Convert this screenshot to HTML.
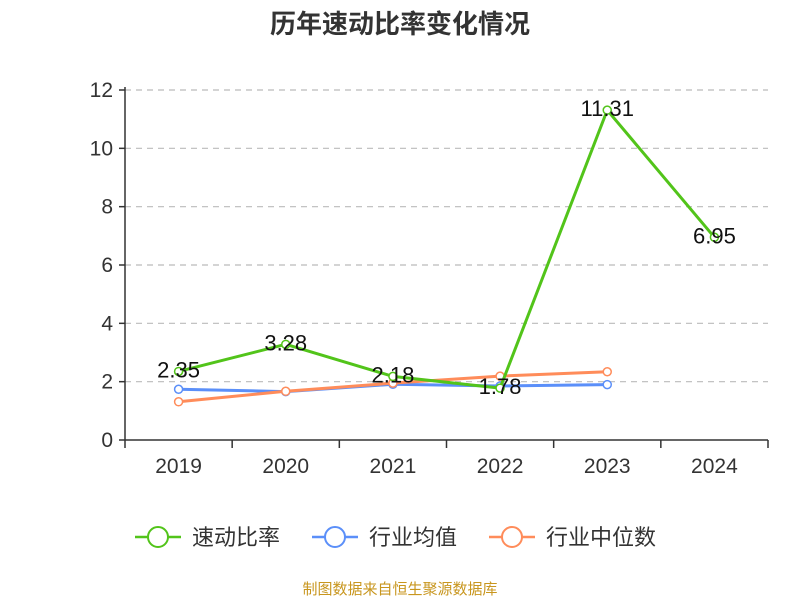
<!DOCTYPE html>
<html><head><meta charset="utf-8"><style>
body{margin:0;background:#fff;font-family:"Liberation Sans","Noto Sans CJK SC",sans-serif}
</style></head><body>
<svg width="800" height="600" xmlns="http://www.w3.org/2000/svg" id="c" font-family="Liberation Sans, Noto Sans CJK SC, sans-serif">
<text x="400" y="33" text-anchor="middle" font-size="26" font-weight="bold" fill="#333">历年速动比率变化情况</text>
<g id="grid"></g><g id="axes"></g><g id="series"></g>
<g>
<g><line x1="135" y1="537" x2="181" y2="537" stroke="#52c41a" stroke-width="2.5"/><circle cx="158" cy="537" r="10" fill="#fff" stroke="#52c41a" stroke-width="2"/><text x="192" y="545" font-size="22" fill="#333">速动比率</text></g>
<g><line x1="312" y1="537" x2="358" y2="537" stroke="#5b8ff9" stroke-width="2.5"/><circle cx="335" cy="537" r="10" fill="#fff" stroke="#5b8ff9" stroke-width="2"/><text x="369" y="545" font-size="22" fill="#333">行业均值</text></g>
<g><line x1="489" y1="537" x2="535" y2="537" stroke="#ff8c5a" stroke-width="2.5"/><circle cx="512" cy="537" r="10" fill="#fff" stroke="#ff8c5a" stroke-width="2"/><text x="546" y="545" font-size="22" fill="#333">行业中位数</text></g>
</g>
<text x="400" y="594" text-anchor="middle" font-size="15" fill="#c8961e">制图数据来自恒生聚源数据库</text>
</svg>
<script>
const categories=["2019","2020","2021","2022","2023","2024"];
const quickRatio=[2.35,3.28,2.18,1.78,11.31,6.95];
const industryAvg=[1.74,1.66,1.91,1.85,1.9];
const industryMedian=[1.31,1.67,1.95,2.19,2.34];
const yTicks=[0,2,4,6,8,10,12];
const NS="http://www.w3.org/2000/svg";
const x0=125,x1=768,y0=440,y1=90,yMax=12;
const band=(x1-x0)/categories.length;
const X=i=>x0+band*(i+0.5);
const Y=v=>y0-(v/yMax)*(y0-y1);
function mk(tag,attrs,parent,txt){const e=document.createElementNS(NS,tag);for(const k in attrs)e.setAttribute(k,attrs[k]);if(txt!==undefined)e.textContent=txt;parent.appendChild(e);return e;}
const grid=document.getElementById('grid'),axes=document.getElementById('axes'),ser=document.getElementById('series');
yTicks.forEach(t=>{
  if(t>0){const g=mk('line',{x1:x0,x2:x1,y1:Y(t),y2:Y(t),stroke:'#bbb','stroke-dasharray':'6,5','stroke-width':1.2},grid);
  
  }
  const tk=mk('line',{x1:x0-6,x2:x0,y1:Y(t),y2:Y(t),stroke:'#333','stroke-width':1.5},axes);
  
  
  const l=mk('text',{x:x0-12,y:Y(t)+7,'text-anchor':'end','font-size':21,fill:'#333'},axes,t);
  
  
});
const ya=mk('line',{x1:x0,x2:x0,y1:y1-3,y2:y0,stroke:'#333','stroke-width':1.5},axes);


const xa=mk('line',{x1:x0,x2:x1,y1:y0,y2:y0,stroke:'#333','stroke-width':1.5},axes);


for(let i=0;i<=categories.length;i++){const t=mk('line',{x1:x0+band*i,x2:x0+band*i,y1:y0,y2:y0+8,stroke:'#333','stroke-width':1.5},axes);

}
categories.forEach((c,i)=>{const l=mk('text',{x:X(i),y:y0+33,'text-anchor':'middle','font-size':21,fill:'#333'},axes,c);

});
function line(vals,color,name,labels){
  const g=mk('g',{},ser);
  
  
  const p=mk('polyline',{points:vals.map((v,i)=>X(i)+','+Y(v)).join(' '),fill:'none',stroke:color,'stroke-width':3},g);
  
  
  vals.forEach((v,i)=>{const c=mk('circle',{cx:X(i),cy:Y(v),r:4,fill:'#fff',stroke:color,'stroke-width':1.5},g);
    
    
    if(labels){const t=mk('text',{x:X(i),y:Y(v)+6,'text-anchor':'middle','font-size':22,fill:'#111'},g,v.toFixed(2));
    
    }
  });
}
line(industryAvg,'#5b8ff9','industry-average',false);
line(industryMedian,'#ff8c5a','industry-median',false);
line(quickRatio,'#52c41a','quick-ratio',true);
</script>
</body></html>
